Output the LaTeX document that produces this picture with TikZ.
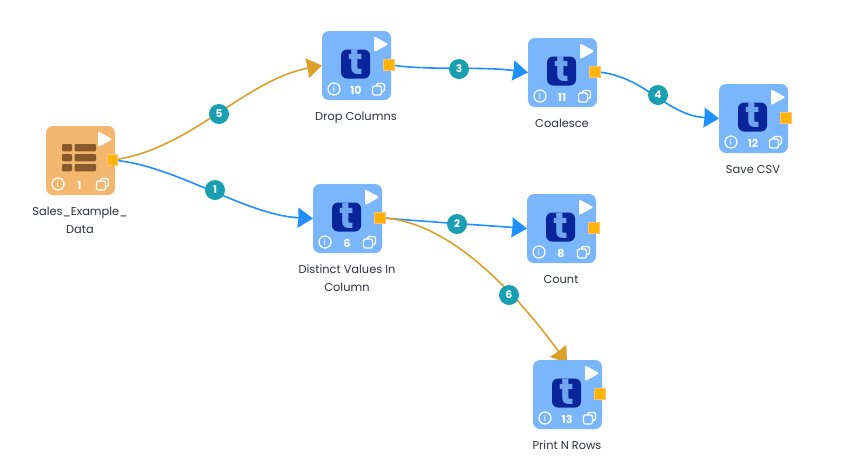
\documentclass[tikz,border=0pt]{standalone}
\usepackage{fontspec}
\setmainfont{Poppins}
\usetikzlibrary{arrows.meta,backgrounds,calc}
\definecolor{boxblue}{HTML}{7AB6FB}
\definecolor{boxorange}{HTML}{F4B76F}
\definecolor{tdark}{HTML}{0A259B}
\definecolor{tlight}{HTML}{6DA6EE}
\definecolor{brownicon}{HTML}{885A2B}
\definecolor{portfill}{HTML}{FFB405}
\definecolor{portedge}{HTML}{FFC27A}
\definecolor{edgeblue}{HTML}{1E90FF}
\definecolor{edgegold}{HTML}{DDA02B}
\definecolor{badgeteal}{HTML}{189FB2}
\definecolor{labelgray}{HTML}{2E3238}
\tikzset{
  x=1pt,y=-1pt,
  taskbox/.style={minimum width=69pt,minimum height=69pt,inner sep=0pt,outer sep=0pt,rounded corners=7pt,fill=boxblue},
  srcbox/.style={taskbox,fill=boxorange},
  portnode/.style={minimum width=10.5pt,minimum height=10.5pt,inner sep=0pt,outer sep=0pt,fill=portfill,draw=portedge,line width=0.8pt},
  numlabel/.style={text=white,font=\fontsize{11}{11}\selectfont\bfseries,inner sep=0pt},
  tasklabel/.style={text=labelgray,font=\fontsize{11.4}{18}\selectfont,align=center,inner sep=0pt,anchor=center,execute at begin node=\strut,execute at end node=\strut},
  badge/.style={circle,fill=badgeteal,text=white,minimum size=20pt,inner sep=0pt,font=\fontsize{10.5}{10.5}\selectfont\bfseries},
  conn/.style={line width=1.6pt,-{Stealth[length=15pt,width=20pt,inset=0.5pt]}},
  connblue/.style={conn,draw=edgeblue,color=edgeblue},
  conngold/.style={conn,draw=edgegold,color=edgegold},
  iconline/.style={draw=white,line width=1.2pt},
}
\newcommand{\boxicons}[3]{%
  \begin{scope}[shift={(#1,#2)}]
    \fill[white,draw=white,line width=2pt,line join=round] (53,7) -- (53,19.5) -- (64.5,13.2) -- cycle;
    \node[circle,iconline,minimum size=12pt,inner sep=0pt,text=white,font=\fontsize{8.5}{8.5}\selectfont] (#3i) at (12,58) {i};
    \draw[iconline,rounded corners=1.5pt] (54.5,55) -- (54.5,52.5) -- (62.5,52.5) -- (62.5,60.5) -- (60,60.5);
    \draw[iconline,rounded corners=1.5pt] (50.5,55) rectangle (59.5,64);
  \end{scope}}
\newcommand{\tasknode}[6]{%
  \node[taskbox,anchor=north west] (b#1) at (#2,#3) {};
  \node[fill=tdark,rounded corners=6pt,minimum size=29pt,inner sep=0pt] (t#1) at ($(#2,#3)+(33.5,33)$) {};
  \node[text=tlight,font=\fontsize{36}{36}\selectfont\bfseries,inner sep=0pt] (g#1) at ($(#2,#3)+(33.5,31.5)$) {t};
  \boxicons{#2}{#3}{b#1}
  \node[numlabel] (n#1) at ($(#2,#3)+(34,59)$) {#4};
  \node[portnode] (p#1) at ($(#2,#3)+(67,33.7)$) {};
  \node[tasklabel] (l#1) at ($(#2,#3)+(34,#5)$) {#6};
}
\begin{document}
\begin{tikzpicture}
\useasboundingbox (0,0) rectangle (853,475);
% source
\node[srcbox,anchor=north west] (b1) at (46,126) {};
\foreach \yy in {144,154,164}{
  \fill[brownicon,rounded corners=1.2pt] (62,\yy) rectangle (72,\yy+7.4);
  \fill[brownicon,rounded corners=1.2pt] (74.5,\yy) rectangle (96,\yy+7.4);
}
\boxicons{46}{126}{b1}
\node[numlabel] (n1) at (79.5,185) {1};
\node[portnode] (p1) at (112.5,160) {};
\node[tasklabel] (l1) at (80,223) {Sales\_Example\_\\Data};
% tasks
\tasknode{10}{322}{31}{10}{86}{Drop Columns}
\tasknode{11}{528}{38}{11}{86}{Coalesce}
\tasknode{12}{719}{84}{12}{86}{Save CSV}
\tasknode{6}{313}{184}{6}{97}{Distinct Values In\\Column}
\tasknode{8}{527}{194}{8}{86}{Count}
\tasknode{13}{533}{360}{13}{86}{Print N Rows}
% connectors
\begin{scope}[on background layer]
  \fill[white] (0,0) rectangle (853,475);
  \draw[conngold] (p1.center) .. controls (190,150) and (245,80) .. (b10.west);
  \draw[connblue] (p1.center) .. controls (175,165) and (245,215) .. (b6.west);
  \draw[connblue] (p6.center) .. controls (430,222) and (480,225) .. (b8.west);
  \draw[connblue] (p10.center) .. controls (430,71) and (480,66) .. (b11.west);
  \draw[connblue] (p11.center) .. controls (645,75) and (665,115) .. (b12.west);
  \coordinate (c13) at (567,363);
  \draw[conngold] (p6.center) .. controls (445,220) and (510,285) .. (c13);
\end{scope}
\node[badge] (e1) at (215,190) {1};
\node[badge] (e2) at (457,224) {2};
\node[badge] (e3) at (459,69) {3};
\node[badge] (e4) at (658,95) {4};
\node[badge] (e5) at (219,114) {5};
\node[badge] (e6) at (509,295) {6};
\end{tikzpicture}
\end{document}
